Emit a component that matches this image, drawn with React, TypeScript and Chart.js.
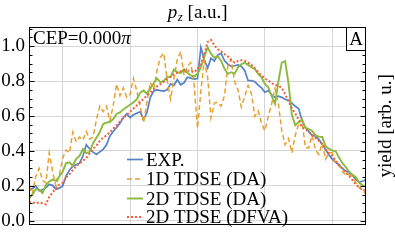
import { useEffect, useRef } from "react";
import { Chart, registerables } from "chart.js";

Chart.register(...registerables);

// momentum p_z [a.u.]
const pz = [
  -2.5, -2.45, -2.4, -2.35, -2.3, -2.25, -2.2, -2.15, -2.1, -2.05,
  -2, -1.95, -1.9, -1.85, -1.8, -1.75, -1.7, -1.65, -1.6, -1.55,
  -1.5, -1.45, -1.4, -1.35, -1.3, -1.25, -1.2, -1.15, -1.1, -1.05,
  -1, -0.95, -0.9, -0.85, -0.8, -0.75, -0.7, -0.65, -0.6, -0.55,
  -0.5, -0.45, -0.4, -0.35, -0.3, -0.25, -0.2, -0.15, -0.1, -0.05,
  0, 0.05, 0.1, 0.15, 0.2, 0.25, 0.3, 0.35, 0.4, 0.45,
  0.5, 0.55, 0.6, 0.65, 0.7, 0.75, 0.8, 0.85, 0.9, 0.95,
  1, 1.05, 1.1, 1.15, 1.2, 1.25, 1.3, 1.35, 1.4, 1.45,
  1.5, 1.55, 1.6, 1.65, 1.7, 1.75, 1.8, 1.85, 1.9, 1.95,
  2, 2.05, 2.1, 2.15, 2.2, 2.25, 2.3, 2.35, 2.4, 2.45,
  2.5,
];

const expYield = [
  0.172, 0.185, 0.199, 0.172, 0.178, 0.190, 0.208, 0.203, 0.181, 0.187,
  0.199, 0.257, 0.290, 0.312, 0.321, 0.330, 0.371, 0.435, 0.411, 0.393,
  0.380, 0.395, 0.409, 0.435, 0.486, 0.511, 0.534, 0.558, 0.592, 0.612,
  0.591, 0.607, 0.616, 0.625, 0.580, 0.620, 0.707, 0.743, 0.750, 0.746,
  0.743, 0.750, 0.784, 0.775, 0.808, 0.779, 0.790, 0.822, 0.817, 0.812,
  0.815, 0.993, 0.924, 0.875, 0.931, 0.915, 0.949, 0.960, 0.918, 0.897,
  0.884, 0.888, 0.893, 0.884, 0.861, 0.804, 0.803, 0.797, 0.777, 0.761,
  0.736, 0.746, 0.721, 0.707, 0.714, 0.707, 0.696, 0.690, 0.674, 0.656,
  0.643, 0.576, 0.534, 0.511, 0.489, 0.484, 0.467, 0.438, 0.408, 0.377,
  0.353, 0.335, 0.321, 0.299, 0.286, 0.275, 0.261, 0.236, 0.221, 0.226,
  0.236,
];

const tdse1dDA = [
  0.199, 0.154, 0.254, 0.301, 0.232, 0.217, 0.389, 0.281, 0.199, 0.263,
  0.359, 0.406, 0.389, 0.507, 0.453, 0.480, 0.462, 0.511, 0.467, 0.480,
  0.580, 0.656, 0.625, 0.656, 0.571, 0.661, 0.783, 0.716, 0.761, 0.707,
  0.725, 0.815, 0.743, 0.652, 0.562, 0.679, 0.793, 0.752, 0.861, 0.938,
  0.960, 0.806, 0.697, 0.815, 0.924, 0.969, 0.833, 0.884, 0.906, 0.779,
  0.530, 0.743, 0.915, 0.824, 0.589, 0.674, 0.679, 0.656, 0.716, 0.888,
  0.924, 0.797, 0.752, 0.652, 0.710, 0.775, 0.728, 0.598, 0.630, 0.558,
  0.516, 0.598, 0.670, 0.757, 0.670, 0.516, 0.435, 0.471, 0.389, 0.489,
  0.553, 0.580, 0.420, 0.417, 0.489, 0.408, 0.380, 0.444, 0.353, 0.389,
  0.389, 0.326, 0.317, 0.281, 0.263, 0.263, 0.254, 0.217, 0.190, 0.172,
  0.154,
];

const tdse2dDA = [
  0.127, 0.149, 0.181, 0.178, 0.159, 0.203, 0.225, 0.236, 0.228, 0.254,
  0.281, 0.330, 0.335, 0.315, 0.355, 0.371, 0.411, 0.388, 0.395, 0.444,
  0.475, 0.507, 0.554, 0.562, 0.567, 0.583, 0.612, 0.621, 0.638, 0.652,
  0.665, 0.679, 0.697, 0.734, 0.746, 0.728, 0.757, 0.788, 0.815, 0.793,
  0.801, 0.824, 0.824, 0.866, 0.851, 0.846, 0.868, 0.848, 0.833, 0.826,
  0.842, 0.879, 0.938, 0.993, 0.957, 0.935, 0.942, 0.917, 0.870, 0.842,
  0.851, 0.842, 0.879, 0.897, 0.906, 0.893, 0.880, 0.870, 0.841, 0.822,
  0.784, 0.764, 0.716, 0.670, 0.797, 0.906, 0.915, 0.788, 0.607, 0.547,
  0.565, 0.580, 0.534, 0.525, 0.516, 0.489, 0.482, 0.480, 0.428, 0.413,
  0.402, 0.399, 0.362, 0.330, 0.308, 0.281, 0.263, 0.250, 0.217, 0.203,
  0.199,
];

const tdse2dDFVA = [
  0.109, 0.105, 0.100, 0.105, 0.100, 0.094, 0.136, 0.163, 0.185, 0.208,
  0.217, 0.248, 0.266, 0.290, 0.312, 0.330, 0.344, 0.359, 0.386, 0.411,
  0.431, 0.457, 0.476, 0.489, 0.507, 0.529, 0.547, 0.569, 0.589, 0.607,
  0.625, 0.643, 0.661, 0.679, 0.699, 0.717, 0.736, 0.754, 0.770, 0.783,
  0.797, 0.812, 0.824, 0.839, 0.848, 0.857, 0.861, 0.861, 0.857, 0.851,
  0.870, 0.897, 0.951, 1.024, 1.036, 1.005, 0.982, 0.971, 0.955, 0.942,
  0.920, 0.906, 0.915, 0.920, 0.917, 0.906, 0.893, 0.873, 0.851, 0.833,
  0.815, 0.803, 0.788, 0.779, 0.774, 0.761, 0.725, 0.685, 0.643, 0.616,
  0.580, 0.534, 0.525, 0.511, 0.493, 0.475, 0.458, 0.440, 0.408, 0.389,
  0.371, 0.344, 0.317, 0.299, 0.275, 0.257, 0.232, 0.208, 0.190, 0.178,
  0.172,
];

const seriesNames = ["EXP.", "1D TDSE (DA)", "2D TDSE (DA)", "2D TDSE (DFVA)"];
const yTickValues = [0, 0.2, 0.4, 0.6, 0.8, 1.0];
const xGridValues = [-2, -1, 0, 1, 2];
const cepText = "CEP=0.000";
const cepSymbol = "π";
const panelLabel = "A";
const rightAxisLabel = "yield [arb. u.]";

const FAMILY = '"Liberation Serif", "Times New Roman", serif';
const COLORS = ["#5581c8", "#e9a030", "#8cba3c", "#f25f3c"];
const WIDTHS = [1.7, 1.5, 1.9, 2];
const DASHES: number[][] = [[], [5, 3], [], [2, 2]];

const decor = {
  id: "decor",
  afterDraw(chart: any) {
    const { ctx, chartArea: a, scales } = chart;
    const ys = scales.y;
    ctx.save();
    const L = Math.round(a.left) + 0.5;
    const R = Math.round(a.right) - 0.5;
    const T = Math.round(a.top) + 0.5;
    const B = Math.round(a.bottom) - 0.5;

    // minor / major ticks on left and right
    ctx.strokeStyle = "#000";
    ctx.lineWidth = 1;
    ctx.setLineDash([]);
    for (let i = 0; i <= 22; i++) {
      const v = i * 0.05;
      const major = i % 4 === 0;
      const len = major ? 5 : 3;
      const py = Math.round(ys.getPixelForValue(v)) + 0.5;
      if (py < a.top || py > a.bottom) continue;
      ctx.beginPath();
      ctx.moveTo(L, py);
      ctx.lineTo(L + len, py);
      ctx.moveTo(R, py);
      ctx.lineTo(R - len, py);
      ctx.stroke();
    }

    // frame
    ctx.strokeRect(L, T, R - L, B - T);

    ctx.fillStyle = "#000";
    ctx.textBaseline = "alphabetic";
    ctx.textAlign = "left";

    // top title p_z [a.u.]
    const fMain = `19px ${FAMILY}`;
    const fItal = `italic 19px ${FAMILY}`;
    const fSub = `italic 13px ${FAMILY}`;
    ctx.font = fItal;
    const wp = ctx.measureText("p").width;
    ctx.font = fSub;
    const wz = ctx.measureText("z").width;
    ctx.font = fMain;
    const wr = ctx.measureText(" [a.u.]").width;
    const tx = (a.left + a.right) / 2 - (wp + wz + wr) / 2;
    ctx.font = fItal;
    ctx.fillText("p", tx, 18);
    ctx.font = fSub;
    ctx.fillText("z", tx + wp + 0.5, 21);
    ctx.font = fMain;
    ctx.fillText(" [a.u.]", tx + wp + wz + 0.5, 18);

    // right label
    ctx.save();
    ctx.translate(386, (a.top + a.bottom) / 2);
    ctx.rotate(-Math.PI / 2);
    ctx.textAlign = "center";
    ctx.textBaseline = "middle";
    ctx.font = fMain;
    ctx.fillText(rightAxisLabel, 0, 0);
    ctx.restore();

    // CEP text
    ctx.font = fMain;
    ctx.fillText(cepText, a.left + 4, a.top + 17);
    const wc = ctx.measureText(cepText).width;
    ctx.font = fItal;
    ctx.fillText(cepSymbol, a.left + 4 + wc, a.top + 17);

    // panel label box
    const bw = 19;
    const bh = 23;
    ctx.fillStyle = "#fff";
    ctx.fillRect(R - bw, T, bw, bh);
    ctx.strokeStyle = "#000";
    ctx.strokeRect(R - bw, T, bw, bh);
    ctx.fillStyle = "#000";
    ctx.font = fMain;
    ctx.textAlign = "center";
    ctx.fillText(panelLabel, R - bw / 2, T + 17);

    // legend
    ctx.textAlign = "left";
    const lineY = [159.5, 179, 198.5, 217];
    seriesNames.forEach((name, i) => {
      ctx.strokeStyle = COLORS[i];
      ctx.lineWidth = WIDTHS[i];
      ctx.setLineDash(DASHES[i]);
      ctx.beginPath();
      ctx.moveTo(127, lineY[i]);
      ctx.lineTo(143, lineY[i]);
      ctx.stroke();
      ctx.setLineDash([]);
      ctx.fillStyle = "#000";
      ctx.font = fMain;
      ctx.fillText(name, 146, lineY[i] + 6);
    });
    ctx.restore();
  },
};

export default function App() {
  const ref = useRef<HTMLCanvasElement>(null);
  useEffect(() => {
    if (!ref.current) return;
    const series = [expYield, tdse1dDA, tdse2dDA, tdse2dDFVA];
    const chart = new Chart(ref.current, {
      type: "line",
      data: {
        datasets: series.map((ys, i) => ({
          label: seriesNames[i],
          data: pz.map((x, j) => ({ x, y: ys[j] })),
          borderColor: COLORS[i],
          borderWidth: WIDTHS[i],
          borderDash: DASHES[i],
          pointRadius: 0,
          tension: 0,
          fill: false,
          order: 4 - i,
        })),
      },
      options: {
        animation: false,
        responsive: false,
        devicePixelRatio: 1,
        events: [],
        layout: { padding: { top: 27, right: 29, bottom: 4, left: 0 } },
        plugins: {
          legend: { display: false },
          tooltip: { enabled: false },
          title: { display: false },
        },
        scales: {
          x: {
            type: "linear",
            min: -2.5,
            max: 2.5,
            border: { display: false },
            grid: { color: "#d6d6d6", lineWidth: 1, drawTicks: false },
            ticks: { display: false },
            afterBuildTicks: (s: any) => {
              s.ticks = xGridValues.map((v) => ({ value: v }));
            },
            afterFit: (s: any) => {
              s.height = 0;
            },
          },
          y: {
            type: "linear",
            min: -0.022,
            max: 1.11,
            border: { display: false },
            grid: { color: "#d6d6d6", lineWidth: 1, drawTicks: false },
            ticks: {
              color: "#000",
              padding: 4,
              font: { family: FAMILY, size: 19 },
              callback: (v: any) => Number(v).toFixed(1),
            },
            afterBuildTicks: (s: any) => {
              s.ticks = yTickValues.map((v) => ({ value: v }));
            },
            afterFit: (s: any) => {
              s.width = 29;
            },
          },
        },
      } as any,
      plugins: [decor],
    });
    return () => chart.destroy();
  }, []);
  return (
    <div style={{ position: "fixed", left: 0, top: 0, width: 395, height: 240, background: "#fff" }}>
      <canvas ref={ref} width={395} height={240} style={{ width: 395, height: 240 }} />
    </div>
  );
}
